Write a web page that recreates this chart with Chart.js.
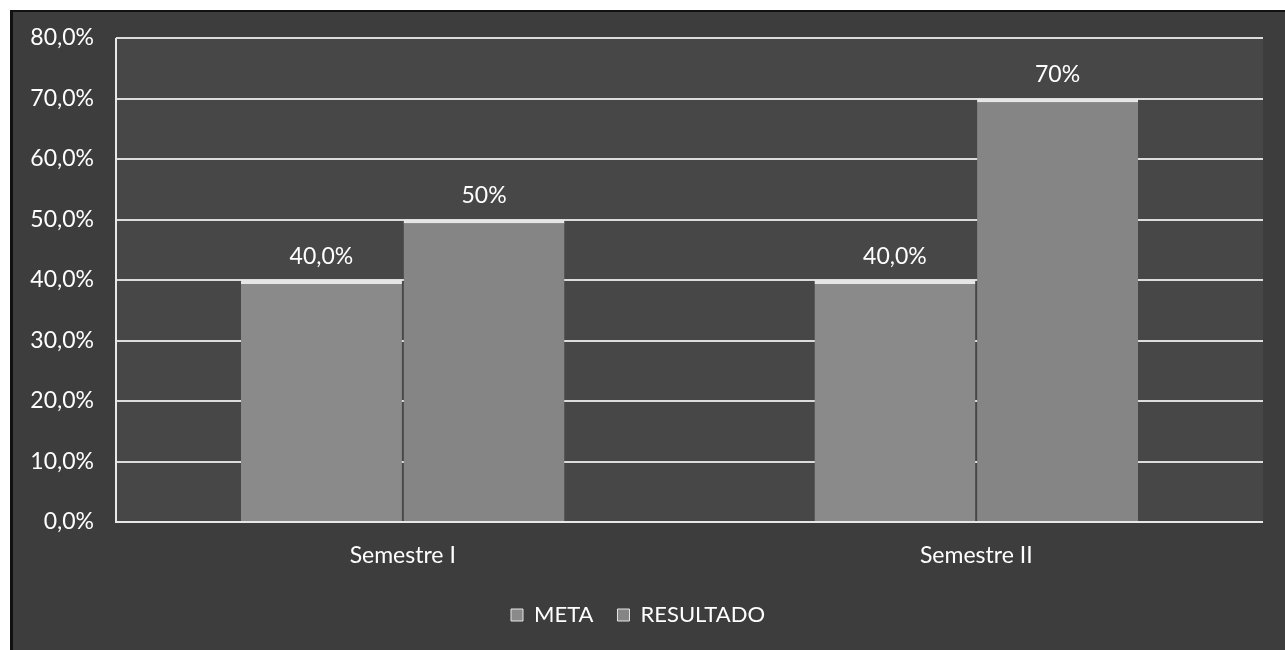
<!DOCTYPE html>
<html>
<head>
<meta charset="utf-8">
<script src="https://cdn.jsdelivr.net/npm/chart.js@4"></script>
<style>
  html,body{margin:0;padding:0;background:#ffffff;}
  #wrap{position:absolute;left:10px;top:10px;width:1275px;height:640px;background:#3d3d3d;border-left:3px solid #111;border-top:2px solid #111;box-sizing:border-box;}
  canvas{display:block;}
</style>
</head>
<body>
<div id="wrap"><canvas id="c" width="1270" height="638"></canvas></div>
<script>
const categories = ['Semestre I', 'Semestre II'];
const metaValues = [40, 40];
const resultadoValues = [50, 70];
const metaLabels = ['40,0%', '40,0%'];
const resultadoLabels = ['50%', '70%'];
const yTicks = [0, 10, 20, 30, 40, 50, 60, 70, 80];

const FONT = 'Lato, "Liberation Sans", sans-serif';
const FS = 23;

const plotBg = {
  id: 'plotBg',
  beforeDraw(chart) {
    const {ctx, chartArea: a} = chart;
    ctx.save();
    ctx.fillStyle = '#474747';
    ctx.fillRect(a.left, a.top, a.right - a.left, a.bottom - a.top);
    ctx.restore();
  },
  afterDatasetsDraw(chart) {
    const {ctx, chartArea: a} = chart;
    ctx.save();
    ctx.strokeStyle = '#e8e8e8';
    ctx.lineWidth = 2;
    ctx.beginPath();
    ctx.moveTo(a.left, a.top);
    ctx.lineTo(a.left, a.bottom);
    ctx.lineTo(a.right, a.bottom);
    ctx.stroke();
    // data labels
    ctx.fillStyle = '#ffffff';
    ctx.font = FS + 'px ' + FONT;
    ctx.textAlign = 'center';
    ctx.textBaseline = 'bottom';
    chart.data.datasets.forEach((ds, di) => {
      const meta = chart.getDatasetMeta(di);
      meta.data.forEach((el, i) => {
        ctx.fillText(ds.labelsText[i], el.x, el.y - 12);
      });
    });
    ctx.restore();
  }
};

new Chart(document.getElementById('c'), {
  type: 'bar',
  data: {
    labels: categories,
    datasets: [
      {
        label: 'META',
        data: metaValues,
        labelsText: metaLabels,
        backgroundColor: '#8a8a8a',
        borderColor: '#e6e6e6',
        borderWidth: {top: 4, left: 0, right: 0, bottom: 0},
        borderSkipped: false,
        barPercentage: 0.99,
        categoryPercentage: 0.567
      },
      {
        label: 'RESULTADO',
        data: resultadoValues,
        labelsText: resultadoLabels,
        backgroundColor: '#858585',
        borderColor: '#e6e6e6',
        borderWidth: {top: 4, left: 0, right: 0, bottom: 0},
        borderSkipped: false,
        barPercentage: 0.99,
        categoryPercentage: 0.567
      }
    ]
  },
  options: {
    responsive: false,
    animation: false,
    devicePixelRatio: 1,
    layout: {padding: {top: 26, right: 20, bottom: 14, left: 0}},
    scales: {
      x: {
        grid: {display: false},
        border: {display: false},
        ticks: {color: '#ffffff', font: {size: FS, family: FONT}, padding: 12},
        afterFit(scale) { scale.height = 58; }
      },
      y: {
        min: 0,
        max: 80,
        afterBuildTicks(scale) { scale.ticks = yTicks.map(v => ({value: v})); },
        grid: {color: '#dcdcdc', lineWidth: 2, drawTicks: true, tickLength: 20, tickColor: 'rgba(0,0,0,0)'},
        border: {display: false},
        ticks: {
          color: '#ffffff',
          font: {size: FS, family: FONT},
          padding: 2,
          callback: v => v.toFixed(1).replace('.', ',') + '%'
        },
        afterFit(scale) { scale.width = 103; }
      }
    },
    plugins: {
      legend: {
        position: 'bottom',
        labels: {
          color: '#ffffff',
          font: {size: 22, family: FONT},
          boxWidth: 12,
          boxHeight: 12,
          padding: 24
        }
      },
      tooltip: {enabled: false}
    }
  },
  plugins: [plotBg]
});
</script>
</body>
</html>
